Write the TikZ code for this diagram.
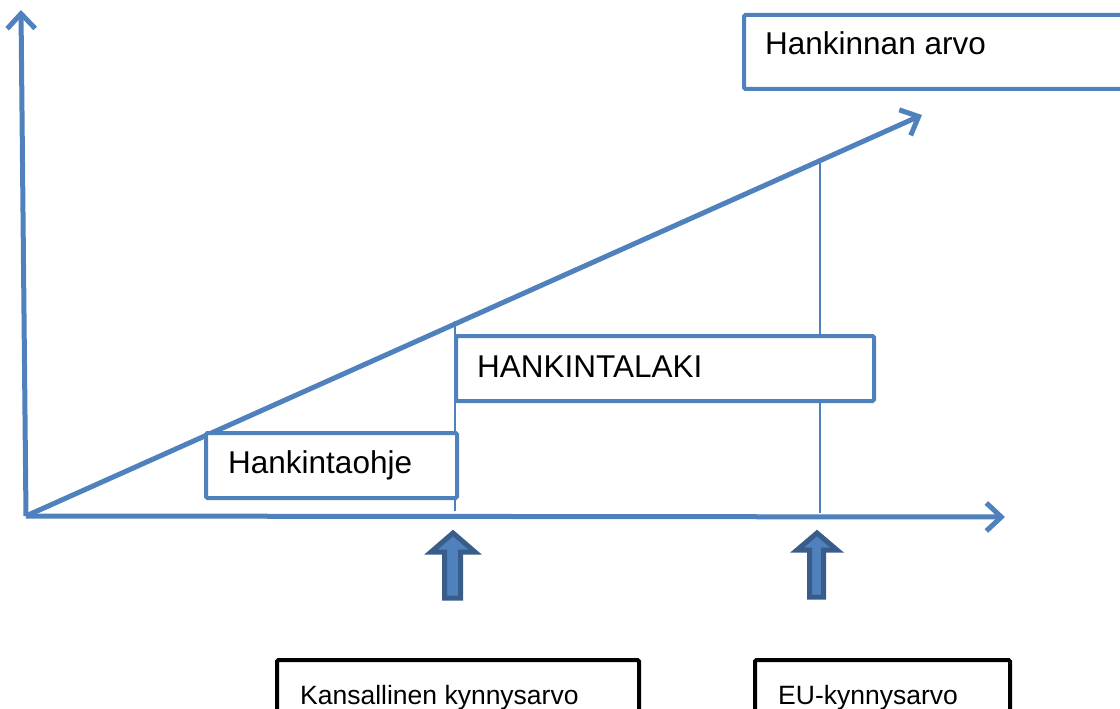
\documentclass[tikz,border=0pt]{standalone}
\usepackage{fontspec}
\setmainfont{Liberation Sans}
\usetikzlibrary{arrows.meta}
\definecolor{axblue}{HTML}{4F81BD}
\definecolor{darkblue}{HTML}{385D8A}
\tikzset{
  axis/.style={draw=axblue, line width=5pt, -{Straight Barb[length=15pt,width=28pt]}, line join=miter},
  thinline/.style={draw=axblue, line width=1.3pt},
  bluebox/.style={draw=axblue, line width=4pt, fill=white, rounded corners=1.5pt, inner sep=0pt, anchor=north west},
  blackbox/.style={draw=black, line width=4pt, fill=white, rounded corners=1.5pt, inner sep=0pt, anchor=north west},
  blockarrow/.style={fill=axblue, draw=darkblue, line width=5pt, line join=miter},
  bigtext/.style={font=\fontsize{31.5}{36}\selectfont, anchor=base west, inner sep=0pt},
  smalltext/.style={font=\fontsize{26.5}{30}\selectfont, anchor=base west, inner sep=0pt}
}
\begin{document}
\begin{tikzpicture}[x=1pt,y=-1pt]
\useasboundingbox (0,0) rectangle (1120,709);
\clip (0,0) rectangle (1120,709);
\fill[white] (0,0) rectangle (1120,709);
% axes
\coordinate (O) at (26,516);
\coordinate (ytip) at (21,10);
\coordinate (xtip) at (1005,517);
\coordinate (dtip) at (922,115);
\draw[axis] (O) -- (ytip);
\draw[axis] (O) -- (xtip);
\draw[axis] (O) -- (dtip);
% thin vertical lines
\coordinate (l1top) at (455,321);
\coordinate (l1bot) at (455,511);
\coordinate (l2top) at (820,159);
\coordinate (l2bot) at (820,513);
\draw[thinline] (l1top) -- (l1bot);
\draw[thinline] (l2top) -- (l2bot);
% boxes
\node[bluebox, minimum width=390pt, minimum height=74pt] (arvo) at (742,13) {};
\node[bigtext] (arvot) at (765,55) {Hankinnan arvo};
\node[bluebox, minimum width=418pt, minimum height=65pt] (laki) at (454,334) {};
\node[bigtext] (lakit) at (477,377) {HANKINTALAKI};
\node[bluebox, minimum width=251pt, minimum height=65pt] (ohje) at (204,431) {};
\node[bigtext] (ohjet) at (228,473) {Hankintaohje};
% block arrows
\draw[blockarrow] (453,533) -- (475,552) -- (460.5,552) -- (460.5,598) -- (444.5,598) -- (444.5,552) -- (431,552) -- cycle;
\draw[blockarrow] (817,533) -- (837,550) -- (823.5,550) -- (823.5,597) -- (809.5,597) -- (809.5,550) -- (797,550) -- cycle;
% bottom boxes
\node[blackbox, minimum width=362pt, minimum height=70pt] (kans) at (275,658) {};
\node[blackbox, minimum width=255pt, minimum height=70pt] (eu) at (753,658) {};
\node[smalltext] (kanst) at (300,704) {Kansallinen kynnysarvo};
\node[smalltext] (eut) at (778,704) {EU-kynnysarvo};
\end{tikzpicture}
\end{document}
